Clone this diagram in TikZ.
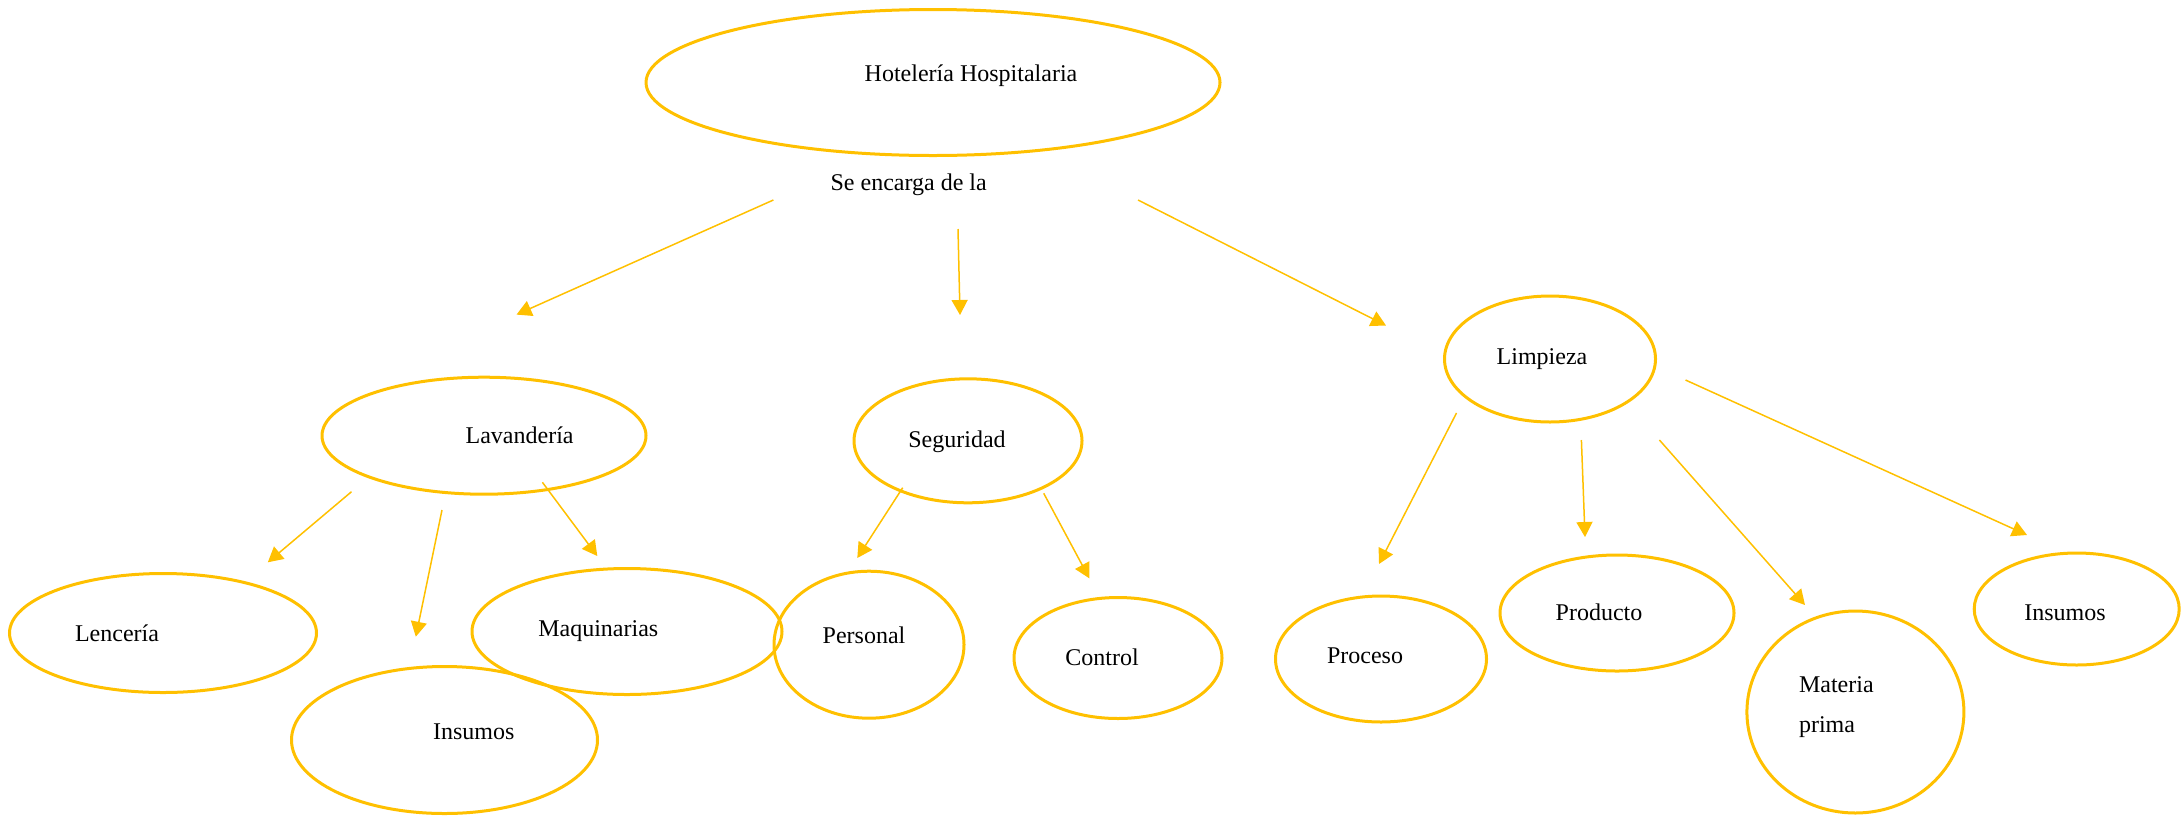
\documentclass[tikz,border=0pt]{standalone}
\usepackage{fontspec}
\setmainfont{Liberation Serif}
\usepackage{tikz}
\usetikzlibrary{arrows.meta,shapes.geometric}
\definecolor{gold}{RGB}{255,192,0}

\begin{document}
\begin{tikzpicture}[x=0.5pt,y=-0.5pt,
    oval/.style={ellipse,draw=gold,line width=1.5pt,inner sep=0pt},
    lbl/.style={anchor=base,inner sep=0pt,font=\fontsize{12}{20}\selectfont},
    arr/.style={draw=gold,line width=0.75pt,-{Triangle[length=7.5pt,width=8pt]}}]
  \useasboundingbox (0,0) rectangle (2183,815);
  % top node
  \node[oval,minimum width=287pt,minimum height=73pt] (hotel) at (933,82.5) {};
  \node[lbl] (hotel-t) at (971,81) {Hotelería Hospitalaria};
  \node[lbl] (encarga) at (908.7,190) {Se encarga de la};
  % second level
  \node[oval,minimum width=162pt,minimum height=58.5pt] (lav) at (484,435.7) {};
  \node[lbl] (lav-t) at (519.6,443.3) {Lavandería};
  \node[oval,minimum width=114pt,minimum height=62pt] (seg) at (968,440.8) {};
  \node[lbl] (seg-t) at (957,447.3) {Seguridad};
  \node[oval,minimum width=105.5pt,minimum height=63pt] (limp) at (1550,359) {};
  \node[lbl] (limp-t) at (1542,364) {Limpieza};
  % lavanderia
  \node[oval,minimum width=153.5pt,minimum height=59.5pt] (lenc) at (163,633) {};
  \node[lbl] (lenc-t) at (117,641) {Lencería};
  \node[oval,minimum width=153pt,minimum height=73.5pt] (insl) at (444.5,740) {};
  \node[lbl] (insl-t) at (473.7,739) {Insumos};
  \node[oval,minimum width=155pt,minimum height=63pt] (maq) at (627,631.5) {};
  \node[lbl] (maq-t) at (598.3,636) {Maquinarias};
  % seguridad
  \node[oval,minimum width=95pt,minimum height=73.5pt] (pers) at (869,644.7) {};
  \node[lbl] (pers-t) at (864,643.3) {Personal};
  \node[oval,minimum width=104pt,minimum height=60.5pt] (ctrl) at (1118,658) {};
  \node[lbl] (ctrl-t) at (1102,665) {Control};
  % limpieza
  \node[oval,minimum width=105.5pt,minimum height=63pt] (proc) at (1381,659) {};
  \node[lbl] (proc-t) at (1365,663) {Proceso};
  \node[oval,minimum width=117pt,minimum height=58pt] (prod) at (1617,613) {};
  \node[lbl] (prod-t) at (1599,620.5) {Producto};
  \node[oval,minimum width=108.5pt,minimum height=101pt] (mat) at (1855.4,712) {};
  \node[lbl,anchor=base west,align=left] (mat-t) at (1798.6,732.5) {Materia\\prima};
  \node[oval,minimum width=102.5pt,minimum height=56pt] (insp) at (2076.7,609) {};
  \node[lbl] (insp-t) at (2065,620.5) {Insumos};
  % arrow ends
  \coordinate (a1) at (773.4,200);   \coordinate (b1) at (516.5,314.6);
  \coordinate (a2) at (958,229);     \coordinate (b2) at (960,315);
  \coordinate (a3) at (1138,200);    \coordinate (b3) at (1386,325.5);
  \coordinate (a4) at (351.5,491.7); \coordinate (b4) at (267.8,562.3);
  \coordinate (a5) at (442,510);     \coordinate (b5) at (415.8,636.7);
  \coordinate (a6) at (542.4,482.3); \coordinate (b6) at (597.3,556);
  \coordinate (a7) at (902.7,487.7); \coordinate (b7) at (857.3,558);
  \coordinate (a8) at (1043.7,493.3);\coordinate (b8) at (1089.3,578.3);
  \coordinate (a9) at (1456.5,413);  \coordinate (b9) at (1379,564);
  \coordinate (a10) at (1581.4,440); \coordinate (b10) at (1585,537);
  \coordinate (a11) at (1659.4,440);\coordinate (b11) at (1805,605);
  \coordinate (a12) at (1685.5,380); \coordinate (b12) at (2027,535);
  \foreach \i in {1,...,12}{\draw[arr] (a\i) -- (b\i);}
\end{tikzpicture}
\end{document}
